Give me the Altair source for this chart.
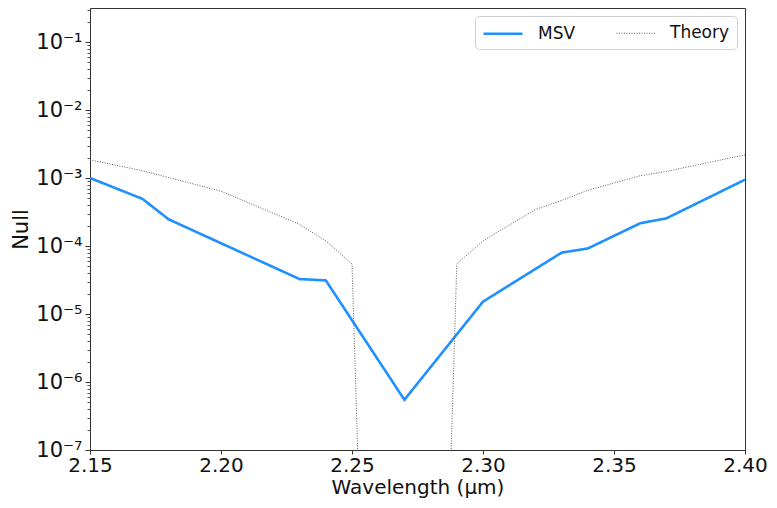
import altair as alt
import pandas as pd

# ---- data ----
msv_wl = [2.15, 2.17, 2.18, 2.23, 2.24, 2.27, 2.30, 2.33, 2.34, 2.36, 2.37, 2.40]
msv_null = [1.0e-3, 4.94e-4, 2.47e-4, 3.26e-5, 3.12e-5, 5.47e-7, 1.52e-5,
            7.98e-5, 9.2e-5, 2.16e-4, 2.55e-4, 9.45e-4]

theory_wl = [2.15, 2.17, 2.20, 2.23, 2.24, 2.25, 2.26, 2.27, 2.28, 2.29,
             2.30, 2.32, 2.33, 2.34, 2.36, 2.37, 2.40]
theory_null = [1.85e-3, 1.28e-3, 6.4e-4, 2.08e-4, 1.19e-4, 5.45e-5, 1e-17,
               1e-20, 1e-17, 5.45e-5, 1.19e-4, 3.45e-4, 4.67e-4, 6.6e-4,
               1.08e-3, 1.25e-3, 2.19e-3]

series_names = ["MSV", "Theory"]
x_ticks = [2.15, 2.20, 2.25, 2.30, 2.35, 2.40]
y_ticks = [1e-7, 1e-6, 1e-5, 1e-4, 1e-3, 1e-2, 1e-1]
y_minor = [m * 10.0 ** e for e in range(-7, 0) for m in range(2, 10)]

df = pd.concat([
    pd.DataFrame({"wl": msv_wl, "null": msv_null, "series": "MSV"}),
    pd.DataFrame({"wl": theory_wl, "null": theory_null, "series": "Theory"}),
])

FONT = "DejaVu Sans"
xscale = alt.Scale(domain=[2.15, 2.40], nice=False, zero=False)
yscale = alt.Scale(type="log", domain=[1e-7, 10 ** -0.5], nice=False)

label_expr = (
    "datum.value < 5e-7 ? '10⁻⁷' : datum.value < 5e-6 ? '10⁻⁶' : "
    "datum.value < 5e-5 ? '10⁻⁵' : datum.value < 5e-4 ? '10⁻⁴' : "
    "datum.value < 5e-3 ? '10⁻³' : datum.value < 5e-2 ? '10⁻²' : '10⁻¹'"
)

legend = alt.Legend(
    title=None, orient="top-right", direction="horizontal", offset=8,
    labelFontSize=17, labelFont=FONT, labelColor="#111",
    symbolType="M-1,0H3.33", symbolSize=324, labelOffset=35, columnPadding=38,
    padding=7, fillColor="white", strokeColor="#d0d0d0", cornerRadius=4,
)

lines = alt.Chart(df).mark_line(clip=True).encode(
    x=alt.X("wl:Q", scale=xscale,
            axis=alt.Axis(values=x_ticks, format=".2f", title="Wavelength (μm)",
                          grid=False, labelFontSize=20, titleFontSize=20,
                          labelFont=FONT, titleFont=FONT, titleFontWeight="normal",
                          tickSize=4, labelPadding=1, titlePadding=2,
                          labelColor="#111", titleColor="#111",
                          tickColor="#333", domainColor="#333", labelFlush=False)),
    y=alt.Y("null:Q", scale=yscale,
            axis=alt.Axis(values=y_ticks, labelExpr=label_expr, title="Null",
                          grid=False, labelFontSize=21, titleFontSize=21,
                          labelFont=FONT, titleFont=FONT, titleFontWeight="normal",
                          tickSize=5, labelPadding=3, titlePadding=4,
                          labelColor="#111", titleColor="#111",
                          tickColor="#333", domainColor="#333", orient="left")),
    color=alt.Color("series:N",
                    scale=alt.Scale(domain=series_names, range=["#1E90FF", "#333333"]),
                    legend=legend),
    strokeDash=alt.StrokeDash("series:N",
                              scale=alt.Scale(domain=series_names, range=[[1, 0], [1, 1.5]]),
                              legend=legend),
    strokeWidth=alt.StrokeWidth("series:N",
                                scale=alt.Scale(domain=series_names, range=[2.6, 0.8]),
                                legend=legend),
)

minor = alt.Chart(df).mark_point(opacity=0).encode(
    x=alt.X("wl:Q", scale=xscale, axis=None),
    y=alt.Y("null:Q", scale=yscale,
            axis=alt.Axis(values=y_minor, labels=False, title=None, grid=False,
                          domain=False, tickSize=3, tickColor="#555", orient="left")),
)

chart = alt.layer(lines, minor).resolve_axis(y="independent", x="independent").properties(
    width=655, height=442,
    autosize=alt.AutoSizeParams(type="none"),
    padding={"left": 82, "top": 0, "right": 24, "bottom": 50},
).configure(background="white").configure_view(stroke="#333", strokeWidth=1)

chart.save("out.html", embed_options={"renderer": "svg", "actions": False})
